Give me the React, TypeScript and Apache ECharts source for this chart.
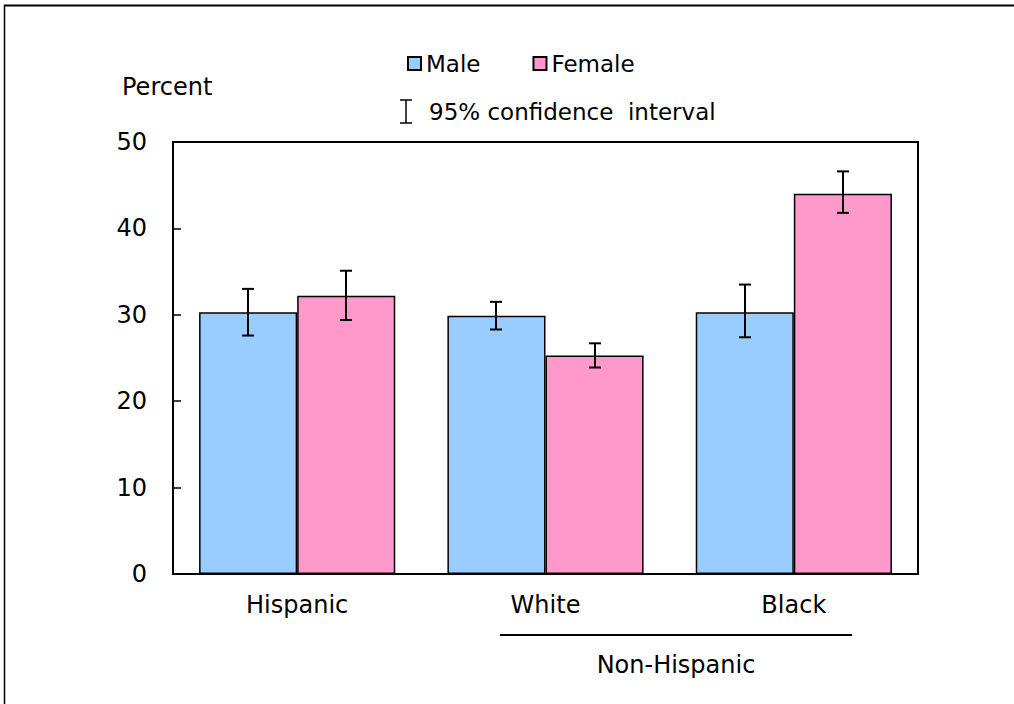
import React, { useEffect, useRef } from "react";
import * as echarts from "echarts";

const categories = ["Hispanic", "White", "Black"];
const maleValues = [30.3, 29.9, 30.3];
const femaleValues = [32.2, 25.3, 44.0];
const maleLower = [27.6, 28.3, 27.4];
const maleUpper = [33.0, 31.5, 33.5];
const femaleLower = [29.4, 23.9, 41.8];
const femaleUpper = [35.1, 26.7, 46.6];
const yTicks = { min: 0, max: 50, interval: 10 };

const FONT = "DejaVu Sans";
const CAT_GAP = 0.21;

function errorSeries(name: string, lower: number[], upper: number[], sign: number) {
  return {
    type: "custom",
    name,
    z: 10,
    silent: true,
    encode: { x: 0, y: [1, 2] },
    data: lower.map((l, i) => [i, l, upper[i]]),
    renderItem: (params: any, api: any) => {
      const idx = api.value(0);
      const band = api.size([1, 0])[0];
      const barW = (band * (1 - CAT_GAP)) / 2;
      const base = api.coord([idx, 0]);
      const cx = Math.round(base[0] + (sign * barW) / 2);
      const yLo = api.coord([idx, api.value(1)])[1];
      const yHi = api.coord([idx, api.value(2)])[1];
      const cap = 6;
      const style = { stroke: "#000", lineWidth: 2 };
      return {
        type: "group",
        children: [
          { type: "line", shape: { x1: cx, y1: yLo, x2: cx, y2: yHi }, style },
          { type: "line", shape: { x1: cx - cap, y1: yLo, x2: cx + cap, y2: yLo }, style },
          { type: "line", shape: { x1: cx - cap, y1: yHi, x2: cx + cap, y2: yHi }, style },
        ],
      };
    },
  };
}

export default function App() {
  const ref = useRef<HTMLDivElement>(null);
  useEffect(() => {
    document.body.style.margin = "0";
    const chart = echarts.init(ref.current!, null, { renderer: "svg" });
    chart.setOption({
      animation: false,
      backgroundColor: "#fff",
      textStyle: { fontFamily: FONT, color: "#000" },
      legend: {
        data: ["Male", "Female"],
        left: 402,
        top: 47,
        itemWidth: 13,
        itemHeight: 13,
        itemGap: 52,
        icon: "rect",
        textStyle: { fontFamily: FONT, fontSize: 23, color: "#000" },
      },
      grid: {
        left: 173,
        top: 142,
        width: 745,
        height: 432,
        show: true,
        borderColor: "#000",
        borderWidth: 2,
        backgroundColor: "transparent",
      },
      xAxis: {
        type: "category",
        data: categories,
        axisLine: { lineStyle: { color: "#000", width: 2 } },
        axisTick: { show: false },
        axisLabel: { fontFamily: FONT, fontSize: 24, color: "#000", margin: 19 },
      },
      yAxis: {
        type: "value",
        min: yTicks.min,
        max: yTicks.max,
        interval: yTicks.interval,
        axisLine: { show: true, lineStyle: { color: "#000", width: 2 } },
        axisTick: { show: true, inside: true, length: 8, lineStyle: { color: "#000", width: 1.5 } },
        splitLine: { show: false },
        axisLabel: { fontFamily: FONT, fontSize: 24, color: "#000", margin: 26 },
      },
      series: [
        {
          name: "Male",
          type: "bar",
          data: maleValues,
          barGap: "0%",
          barCategoryGap: "21%",
          itemStyle: { color: "#99CCFF", borderColor: "#000", borderWidth: 1.5 },
        },
        {
          name: "Female",
          type: "bar",
          data: femaleValues,
          barGap: "0%",
          barCategoryGap: "21%",
          itemStyle: { color: "#FF99CC", borderColor: "#000", borderWidth: 1.5 },
        },
        errorSeries("Male CI", maleLower, maleUpper, -1),
        errorSeries("Female CI", femaleLower, femaleUpper, 1),
      ],
      graphic: [
        { type: "line", shape: { x1: 4, y1: 5.5, x2: 1014, y2: 5.5 }, style: { stroke: "#000", lineWidth: 2 } },
        { type: "line", shape: { x1: 4.5, y1: 5, x2: 4.5, y2: 704 }, style: { stroke: "#000", lineWidth: 1.5 } },
        {
          type: "text",
          x: 122,
          y: 87,
          style: { text: "Percent", font: `24px "${FONT}"`, fill: "#000", textVerticalAlign: "middle" },
        },
        { type: "line", shape: { x1: 406, y1: 100, x2: 406, y2: 123 }, style: { stroke: "#000", lineWidth: 1.5 } },
        { type: "line", shape: { x1: 400, y1: 100, x2: 412, y2: 100 }, style: { stroke: "#000", lineWidth: 1.5 } },
        { type: "line", shape: { x1: 400, y1: 123, x2: 412, y2: 123 }, style: { stroke: "#000", lineWidth: 1.5 } },
        {
          type: "text",
          x: 429,
          y: 112,
          style: {
            text: "95% confidence  interval",
            font: `23px "${FONT}"`,
            fill: "#000",
            textVerticalAlign: "middle",
          },
        },
        { type: "line", shape: { x1: 500, y1: 635, x2: 852, y2: 635 }, style: { stroke: "#000", lineWidth: 2 } },
        {
          type: "text",
          x: 676,
          y: 665,
          style: {
            text: "Non-Hispanic",
            font: `24px "${FONT}"`,
            fill: "#000",
            textAlign: "center",
            textVerticalAlign: "middle",
          },
        },
      ],
    });
    return () => chart.dispose();
  }, []);
  return <div ref={ref} style={{ width: 1014, height: 704 }} />;
}
